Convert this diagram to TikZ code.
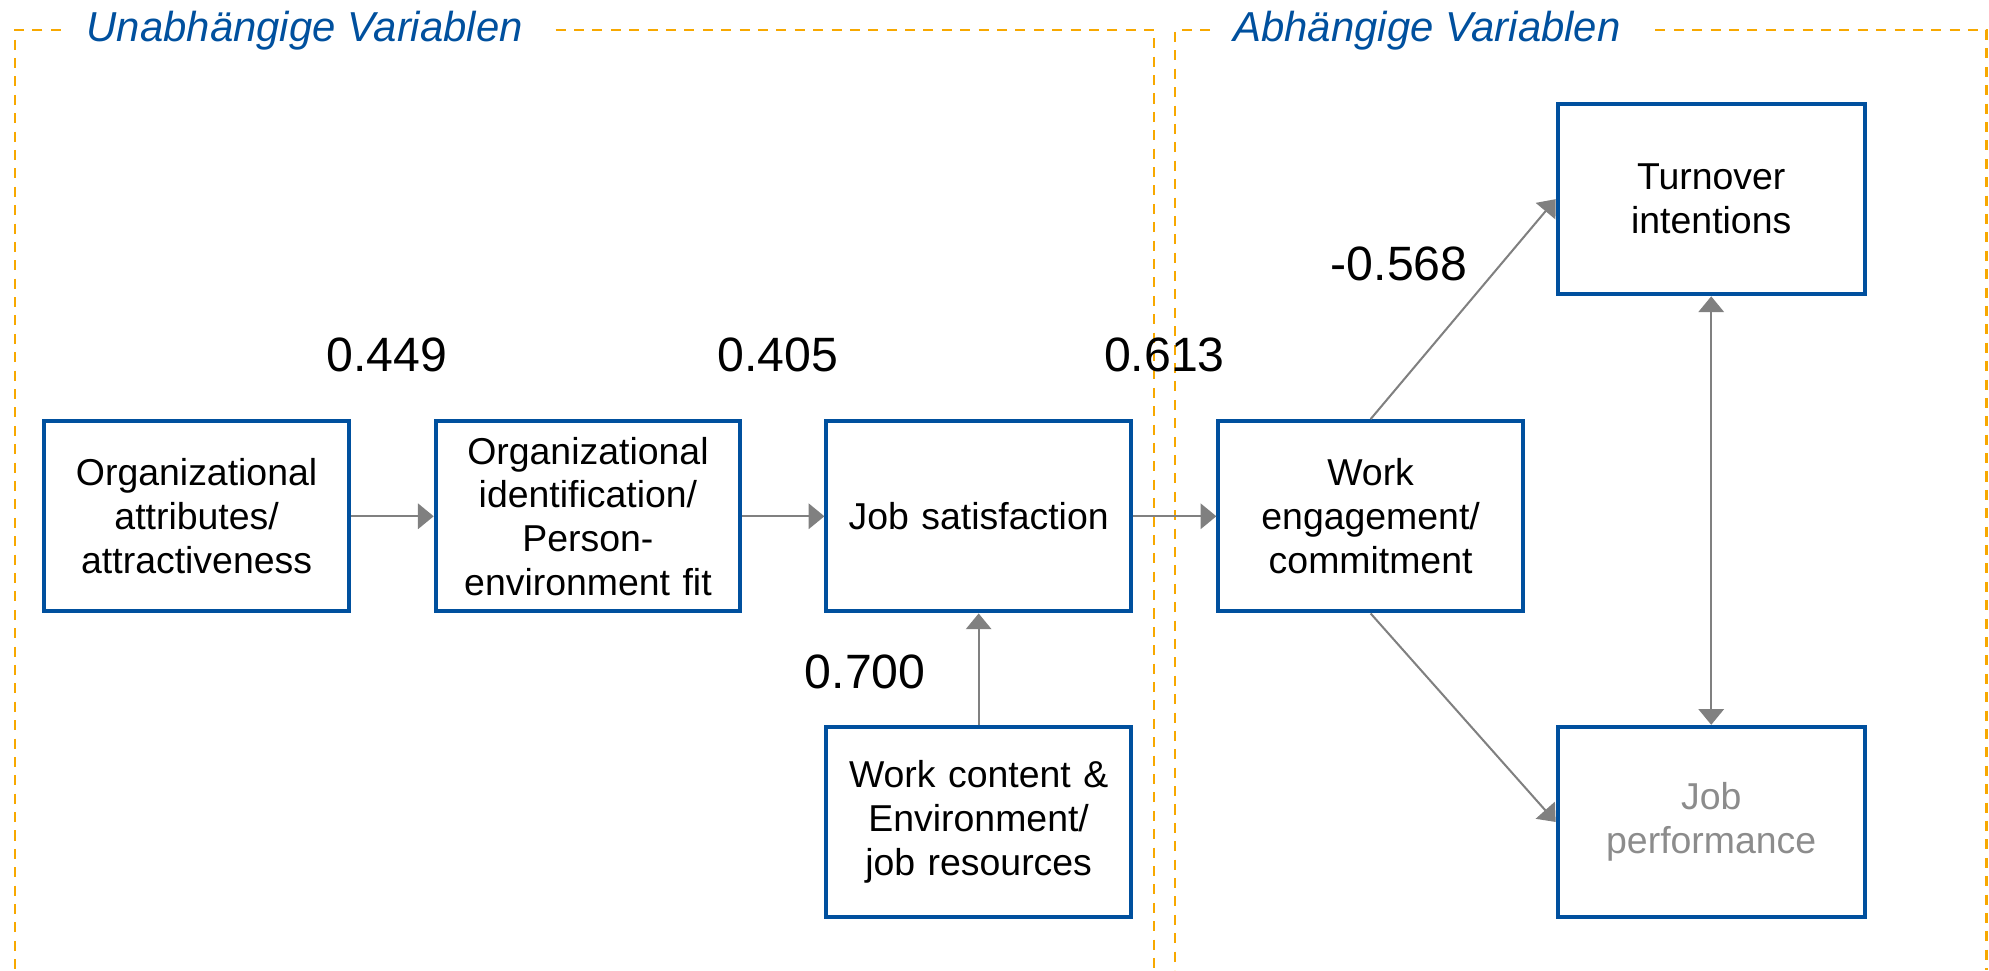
\documentclass[tikz,border=0pt]{standalone}
\usepackage{fontspec}
\setmainfont{Liberation Sans}
\usetikzlibrary{arrows.meta}
\definecolor{boxblue}{RGB}{0,80,158}
\definecolor{frameorange}{RGB}{247,168,0}
\definecolor{arrowgrey}{RGB}{128,128,128}
\definecolor{textgrey}{RGB}{140,140,140}
\tikzset{
  varbox/.style={draw=boxblue, line width=1.6pt, minimum width=120pt, minimum height=75pt,
    inner sep=0pt, text width=112pt, align=center, font=\fontsize{14.75}{17.25}\selectfont},
  wideb/.style={minimum width=121pt},
  conn/.style={draw=arrowgrey, line width=0.8pt, -{Triangle[length=6.2pt,width=10pt]}},
  dconn/.style={draw=arrowgrey, line width=0.8pt, {Triangle[length=6.2pt,width=10pt]}-{Triangle[length=6.2pt,width=10pt]}},
  coef/.style={font=\fontsize{19}{22}\selectfont, inner sep=0pt},
  frame/.style={draw=frameorange, line width=0.9pt, dash pattern=on 3.95pt off 3.3pt},
  ftitle/.style={text=boxblue, font=\fontsize{16.5}{19}\selectfont\itshape, inner sep=0pt, anchor=base west}
}
\begin{document}
\begin{tikzpicture}[x=0.5pt,y=-0.5pt]
\useasboundingbox (0,0) rectangle (1568,764.7);
% frames
\draw[frame] (48,23.7) -- (12,23.7) -- (12,764.7);
\draw[frame] (438,23.7) -- (910,23.7) -- (910,764.7);
\draw[frame] (954,23.7) -- (926.5,23.7) -- (926.5,764.7);
\draw[frame] (1305,23.7) -- (1566,23.7) -- (1566,764.7);
\node[ftitle] (t1) at (68,32.8) {Unabhängige Variablen};
\node[ftitle] (t2) at (972,32.8) {Abhängige Variablen};
% boxes
\node[varbox] (b1) at (155,407) {Organizational\\attributes/\\attractiveness};
\node[varbox] (b2) at (463.5,407) {Organizational\\identification/\\Person-\\environment fit};
\node[varbox] (b3) at (771.5,407) {Job satisfaction};
\node[varbox] (b4) at (771.5,648) {Work content \&\\Environment/\\job resources};
\node[varbox] (b5) at (1080.5,407) {Work\\engagement/\\commitment};
\node[varbox,wideb] (b6) at (1349,157) {Turnover\\intentions};
\node[varbox,wideb,text=textgrey] (b7) at (1349,648) {Job\\performance};
% connectors
\draw[conn] (b1) -- (b2);
\draw[conn] (b2) -- (b3);
\draw[conn] (b3) -- (b5);
\draw[conn] (b4) -- (b3);
\draw[conn] (b5.north) -- (b6.west);
\draw[conn] (b5.south) -- (b7.west);
\draw[dconn] (b6) -- (b7);
% coefficients
\node[coef] (c1) at (305,280) {0.449};
\node[coef] (c2) at (613,280) {0.405};
\node[coef] (c3) at (918,280) {0.613};
\node[coef] (c4) at (682,530) {0.700};
\node[coef] (c5) at (1103,208) {-0.568};
\end{tikzpicture}
\end{document}
